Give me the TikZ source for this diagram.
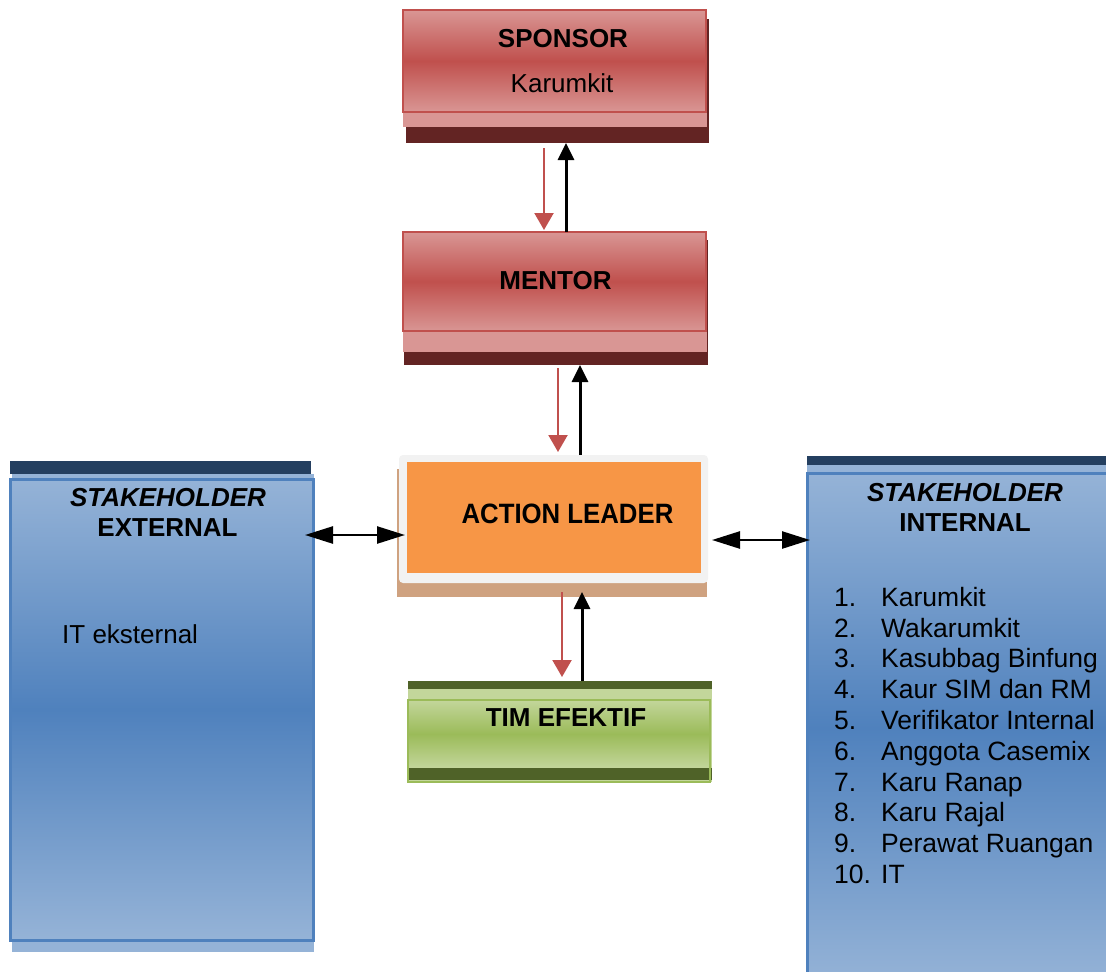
\documentclass[tikz,border=0pt]{standalone}
\usepackage{fontspec}
\setmainfont{Liberation Sans}
\newfontfamily\narrowfont[FakeStretch=0.92]{Liberation Sans}
\usetikzlibrary{arrows.meta}
\definecolor{redlight}{RGB}{217,150,148}
\definecolor{redmid}{RGB}{192,80,77}
\definecolor{maroondark}{RGB}{99,36,35}
\definecolor{orangecore}{RGB}{247,150,70}
\definecolor{framegray}{RGB}{242,242,242}
\definecolor{tanshadow}{RGB}{207,162,128}
\definecolor{grlight}{RGB}{195,214,155}
\definecolor{grmid}{RGB}{155,187,89}
\definecolor{grdark}{RGB}{79,98,40}
\definecolor{bllight}{RGB}{149,179,215}
\definecolor{blmid}{RGB}{79,129,189}
\definecolor{navyband}{RGB}{36,63,96}
\newcommand\myrm{\fontsize{26}{31}\selectfont}
\newcommand\mybf{\fontsize{26}{31}\selectfont\bfseries}
\newcommand\mybi{\fontsize{26}{31}\selectfont\bfseries\itshape}
\newcommand\mylist{\fontsize{26.5}{31}\selectfont}
\newcommand\mynarrow{\fontsize{28}{33}\selectfont\narrowfont\bfseries}
\begin{document}
\begin{tikzpicture}[x=1pt,y=-1pt,
  box/.style={inner sep=0pt, outer sep=0pt, anchor=north west},
  redface/.style={box, top color=redlight, bottom color=redlight, middle color=redmid, draw=redmid, line width=2pt},
  blueface/.style={box, top color=bllight, bottom color=bllight, middle color=blmid, draw=blmid, line width=3pt},
  greenface/.style={box, top color=grlight, bottom color=grlight, middle color=grmid},
  txt/.style={inner sep=0pt, anchor=base},
  txtl/.style={inner sep=0pt, anchor=base west, font=\mylist},
  redarr/.style={draw=redmid, line width=2.2pt, -{Triangle[length=17pt,width=19pt]}},
  blkarr/.style={draw=black, line width=3pt, -{Triangle[length=17pt,width=16pt]}},
  dblarr/.style={draw=black, line width=2.5pt, {Triangle[length=28pt,width=17pt]}-{Triangle[length=28pt,width=17pt]}}
]
\useasboundingbox (0,0) rectangle (1106,972);
\clip (0,0) rectangle (1106,972);

% SPONSOR
\node[box, fill=maroondark, minimum width=303pt, minimum height=124pt] (spdark) at (406,19) {};
\node[box, fill=redlight, minimum width=304pt, minimum height=108pt] (sppink) at (403,19) {};
\node[redface, minimum width=303pt, minimum height=102pt] (sponsor) at (403,10) {};
\node[txt, font=\mybf] (sptitle) at (563,47.3) {SPONSOR};
\node[txt, font=\myrm] (spname) at (562,92.3) {Karumkit};

% MENTOR
\node[box, fill=maroondark, minimum width=304pt, minimum height=125pt] (mndark) at (404,240) {};
\node[box, fill=redlight, minimum width=304pt, minimum height=112pt] (mnpink) at (403,240) {};
\node[redface, minimum width=303pt, minimum height=99pt] (mentor) at (403,232) {};
\node[txt, font=\mybf] (mntitle) at (555.5,289.3) {MENTOR};

% ACTION LEADER
\node[box, fill=tanshadow, minimum width=310pt, minimum height=128pt] (altan) at (397,469) {};
\node[box, fill=framegray, rounded corners=4pt, minimum width=309pt, minimum height=128pt] (alframe) at (399,455) {};
\node[box, fill=orangecore, minimum width=294pt, minimum height=111pt] (alcore) at (407,462) {};
\node[txt, font=\mynarrow] (altitle) at (567.5,523) {ACTION LEADER};

% TIM EFEKTIF
\node[box, fill=grdark, minimum width=304pt, minimum height=8pt] (timtop) at (408,681) {};
\node[box, fill=grlight, minimum width=304pt, minimum height=93pt] (timlight) at (408,689) {};
\node[greenface, minimum width=302pt, minimum height=68pt] (timface) at (408,700) {};
\node[box, fill=grdark, minimum width=304pt, minimum height=12pt] (timbottom) at (408,768) {};
\node[box, draw=grmid, line width=2pt, minimum width=302pt, minimum height=82pt] (tim) at (408,700) {};
\node[txt, font=\mybf] (timtitle) at (566,726.8) {TIM EFEKTIF};

% STAKEHOLDER EXTERNAL
\node[box, fill=navyband, minimum width=301pt, minimum height=13pt] (extnavy) at (10,461) {};
\node[box, fill=bllight, minimum width=302pt, minimum height=478pt] (extlight) at (12,474) {};
\node[blueface, minimum width=303pt, minimum height=461pt] (ext) at (10,479) {};
\node[txt, font=\mybi] (exttitle) at (168,506.3) {STAKEHOLDER};
\node[txt, font=\mybf] (extsub) at (167.5,536.3) {EXTERNAL};
\node[inner sep=0pt, anchor=base west, font=\myrm] (extitem) at (62,643.3) {IT eksternal};

% STAKEHOLDER INTERNAL
\node[box, fill=navyband, minimum width=303pt, minimum height=9pt] (intnavy) at (807,456) {};
\node[box, fill=bllight, minimum width=303pt, minimum height=520pt] (intlight) at (807,465) {};
\node[blueface, minimum width=305pt, minimum height=510pt] (int) at (807,473) {};
\node[txt, font=\mybi] (inttitle) at (965,501.3) {STAKEHOLDER};
\node[txt, font=\mybf] (intsub) at (965,531.3) {INTERNAL};
\foreach \t [count=\i] in {Karumkit, Wakarumkit, Kasubbag Binfung, Kaur SIM dan RM, Verifikator Internal, Anggota Casemix, Karu Ranap, Karu Rajal, Perawat Ruangan, IT} {
  \node[txtl] (num\i) at (834,{606.3+30.8*(\i-1)}) {\i.};
  \node[txtl] (item\i) at (881,{606.3+30.8*(\i-1)}) {\t};
}

% connector columns and rows
\coordinate (c1) at (544,0);
\coordinate (c2) at (566,0);
\coordinate (c3) at (558,0);
\coordinate (c4) at (580,0);
\coordinate (c5) at (562,0);
\coordinate (c6) at (582,0);
\coordinate (cy1) at (0,535);
\coordinate (cy2) at (0,540);

% vertical arrows
\draw[redarr, shorten <=5pt, shorten >=2pt] (spdark.south -| c1) -- (mentor.north -| c1);
\draw[blkarr] (mentor.north -| c2) -- (spdark.south -| c2);
\draw[redarr, shorten <=3pt, shorten >=3pt] (mndark.south -| c3) -- (alframe.north -| c3);
\draw[blkarr] (alframe.north -| c4) -- (mndark.south -| c4);
\draw[redarr, shorten <=-5pt, shorten >=4pt] (altan.south -| c5) -- (timtop.north -| c5);
\draw[blkarr, shorten >=-5pt] (timtop.north -| c6) -- (altan.south -| c6);

% horizontal double arrows
\draw[dblarr, shorten <=-8pt, shorten >=-6pt] (ext.east |- cy1) -- (alframe.west |- cy1);
\draw[dblarr, shorten <=4pt, shorten >=-3pt] (alframe.east |- cy2) -- (int.west |- cy2);
\end{tikzpicture}
\end{document}
